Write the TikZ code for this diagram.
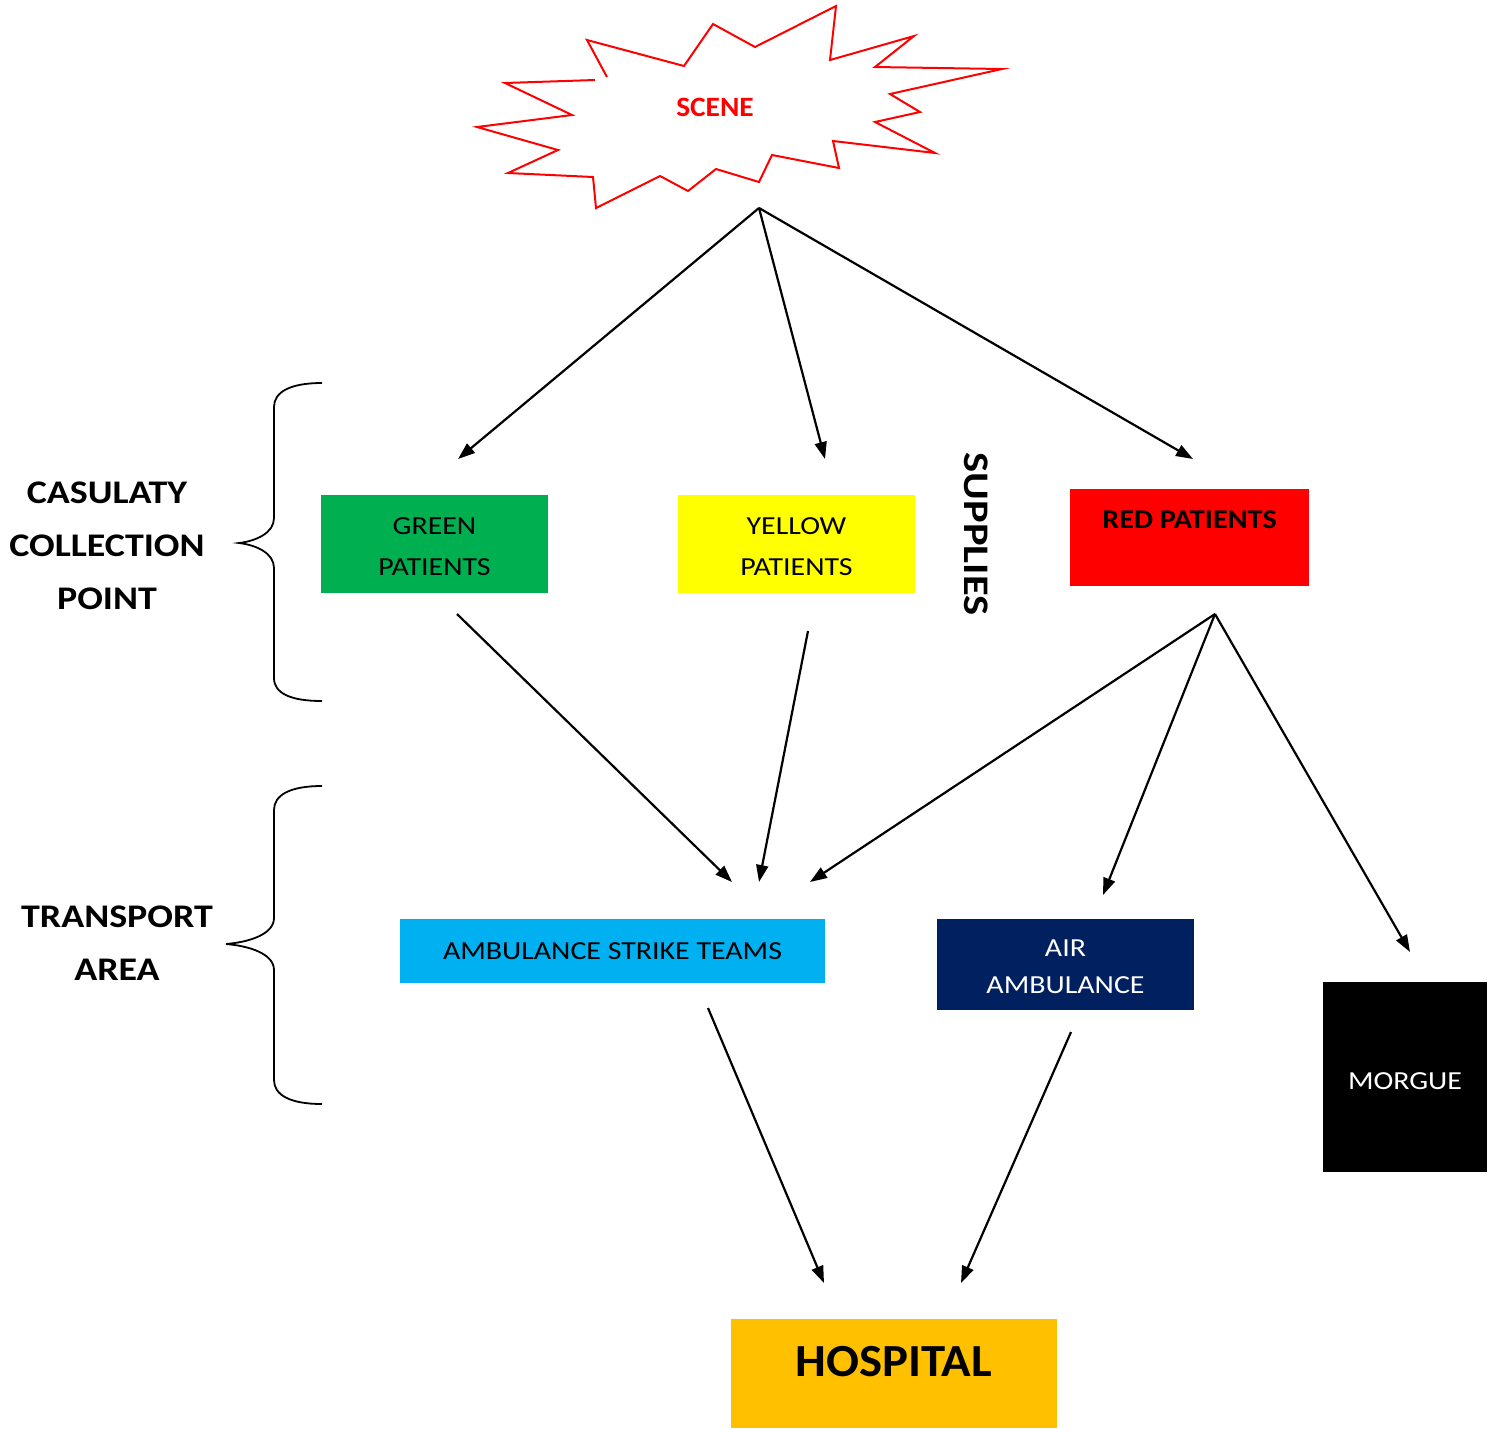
\documentclass[tikz,border=0pt]{standalone}
\usepackage{fontspec}
\setmainfont{Carlito}
\usetikzlibrary{arrows.meta}
\definecolor{cgreen}{HTML}{00B050}
\definecolor{cyellow}{HTML}{FFFF00}
\definecolor{cred}{HTML}{FF0000}
\definecolor{cblue}{HTML}{00B0F0}
\definecolor{cnavy}{HTML}{002060}
\definecolor{corange}{HTML}{FFC000}
\newcommand{\wideby}[1]{\addfontfeatures{FakeStretch=#1}}
\tikzset{
  box/.style={rectangle, inner sep=0pt},
  plain/.style={font=\fontsize{26}{41}\selectfont\wideby{1.15}, align=center},
  heading/.style={font=\bfseries\fontsize{33}{53}\selectfont\wideby{1.15}, align=center},
  flow/.style={line width=2.2pt, -{Triangle[length=17pt,width=12pt]}},
  bracket/.style={line width=1.8pt},
}
\begin{document}
\begin{tikzpicture}[x=1pt,y=-1pt]
\useasboundingbox (0,0) rectangle (1497,1428);

% explosion outline around the scene
\draw[cred, line width=2pt, line join=miter]
  (607,77) -- (587,40) -- (684,66) -- (713,24) -- (755,47) -- (836,6)
  -- (830,60) -- (914,36) -- (875,67) -- (1002,69) -- (890,94) -- (920,112)
  -- (875,122) -- (935,153) -- (833,141) -- (839,168) -- (772,155)
  -- (759,182) -- (716,169) -- (688,191) -- (660,176) -- (596,208)
  -- (593,177) -- (508,173) -- (558,150) -- (477,127) -- (572,115)
  -- (505,83) -- (595,80);
\node[text=cred, font=\bfseries\fontsize{28}{32}\selectfont\wideby{1.05}] (scene) at (715,107) {SCENE};

% coloured boxes and their labels
\node[box, fill=cgreen, minimum width=227pt, minimum height=98pt] (green) at (434.5,544) {};
\node[plain] (greentext) at (434.5,547) {GREEN\\PATIENTS};
\node[box, fill=cyellow, minimum width=237pt, minimum height=98pt] (yellow) at (796.5,544) {};
\node[plain] (yellowtext) at (796.5,547) {YELLOW\\PATIENTS};
\node[box, fill=cred, minimum width=239pt, minimum height=97pt] (red) at (1189.5,537.5) {};
\node[font=\bfseries\fontsize{27}{30}\selectfont\wideby{1.12}] (redtext) at (1189.5,520) {RED PATIENTS};
\node[box, fill=cblue, minimum width=425pt, minimum height=64pt] (amb) at (612.5,951) {};
\node[plain] (ambtext) at (612.5,951) {AMBULANCE STRIKE TEAMS};
\node[box, fill=cnavy, minimum width=257pt, minimum height=91pt] (air) at (1065.5,964.5) {};
\node[text=white, align=center, font=\fontsize{26}{37}\selectfont\wideby{1.15}] (airtext) at (1065.5,967) {AIR\\AMBULANCE};
\node[box, fill=black, minimum width=164pt, minimum height=190pt] (morgue) at (1405,1077) {};
\node[plain, text=white] (morguetext) at (1405,1081) {MORGUE};
\node[box, fill=corange, minimum width=326pt, minimum height=109pt] (hosp) at (894,1373.5) {};
\node[font=\bfseries\fontsize{46}{50}\selectfont\wideby{1.06}] (hosptext) at (894,1362) {HOSPITAL};

% side labels
\node[heading] (ccp) at (107,546) {CASULATY\\COLLECTION\\POINT};
\node[heading] (ta) at (117,943.5) {TRANSPORT\\AREA};
\node[font=\bfseries\fontsize{36}{40}\selectfont\wideby{1.18}, rotate=-90] (supplies) at (976,534) {SUPPLIES};

% braces
\draw[bracket] (322,383) .. controls (290,383) and (274,392) .. (274,407)
  -- (274,518) .. controls (274,533) and (256,541) .. (239,543)
  .. controls (256,545) and (274,553) .. (274,568)
  -- (274,678) .. controls (274,693) and (290,701) .. (322,701);
\draw[bracket] (322,786) .. controls (290,786) and (274,795) .. (274,810)
  -- (274,918) .. controls (274,934) and (250,942) .. (226,944)
  .. controls (250,946) and (274,954) .. (274,970)
  -- (274,1080) .. controls (274,1095) and (290,1104) .. (322,1104);

% connector end points
\coordinate (s0) at (759,208);
\coordinate (gIn) at (458,459);
\coordinate (yIn) at (825,459);
\coordinate (rIn) at (1193,459);
\coordinate (gOut) at (457,614);
\coordinate (yOut) at (808,631);
\coordinate (rOut) at (1215,614);
\coordinate (aIn1) at (732,882);
\coordinate (aIn2) at (759,882);
\coordinate (aIn3) at (810,882);
\coordinate (airIn) at (1103,895);
\coordinate (mIn) at (1410,952);
\coordinate (aOut) at (708,1008);
\coordinate (airOut) at (1071,1032);
\coordinate (hIn1) at (824,1283);
\coordinate (hIn2) at (961,1283);

% flow arrows
\draw[flow] (s0) -- (gIn);
\draw[flow] (s0) -- (yIn);
\draw[flow] (s0) -- (rIn);
\draw[flow] (gOut) -- (aIn1);
\draw[flow] (yOut) -- (aIn2);
\draw[flow] (rOut) -- (aIn3);
\draw[flow] (rOut) -- (airIn);
\draw[flow] (rOut) -- (mIn);
\draw[flow] (aOut) -- (hIn1);
\draw[flow] (airOut) -- (hIn2);
\end{tikzpicture}
\end{document}
